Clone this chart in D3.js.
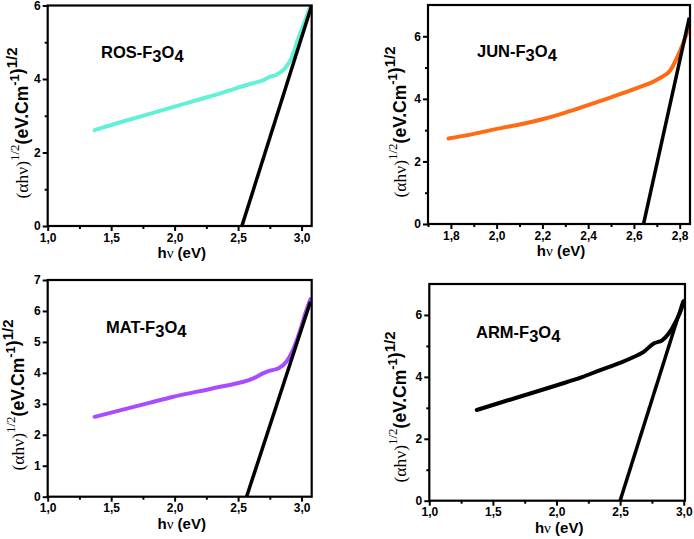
<!DOCTYPE html>
<html><head><meta charset="utf-8">
<script src="https://cdn.jsdelivr.net/npm/d3@7"></script>
<style>body{margin:0;background:#fff}svg{display:block}</style>
</head><body>
<svg id="c" width="694" height="539"></svg>
<script>
// ---- data ----
const rosX = [1.37, 1.60, 1.80, 2.00, 2.20, 2.36, 2.46, 2.60, 2.70, 2.75, 2.80, 2.87, 2.92, 2.97, 3.03, 3.07];
const rosY = [2.61, 2.85, 3.05, 3.25, 3.45, 3.61, 3.72, 3.87, 3.97, 4.06, 4.11, 4.29, 4.56, 5.06, 5.61, 5.99];
const rosTangentX = [2.53, 3.08];
const rosTangentY = [0, 6.0];

const junX = [1.79, 1.90, 2.00, 2.10, 2.20, 2.30, 2.40, 2.50, 2.60, 2.71, 2.76, 2.79, 2.815, 2.836, 2.845];
const junY = [2.73, 2.88, 3.04, 3.18, 3.35, 3.56, 3.80, 4.05, 4.31, 4.65, 4.92, 5.34, 5.77, 6.19, 6.35];
const junTangentX = [2.642, 2.842];
const junTangentY = [0, 6.6];

const matX = [1.37, 1.60, 1.80, 1.99, 2.20, 2.36, 2.62, 2.70, 2.75, 2.82, 2.88, 2.92, 2.99, 3.03, 3.07];
const matY = [2.58, 2.82, 3.03, 3.23, 3.41, 3.55, 3.82, 3.99, 4.07, 4.15, 4.36, 4.63, 5.38, 5.92, 6.38];
const matTangentX = [2.567, 3.07];
const matTangentY = [0, 6.3];

const armX = [1.373, 1.60, 1.80, 2.003, 2.20, 2.344, 2.50, 2.606, 2.685, 2.764, 2.83, 2.882, 2.935, 2.987, 3.0];
const armY = [2.93, 3.22, 3.47, 3.73, 3.99, 4.22, 4.45, 4.64, 4.81, 5.08, 5.18, 5.40, 5.77, 6.26, 6.45];
const armTangentX = [2.50, 2.995];
const armTangentY = [0, 6.45];

const names = ["ROS", "JUN", "MAT", "ARM"];
const xTicksA = [1.0, 1.5, 2.0, 2.5, 3.0];
const xMinorA = [1.25, 1.75, 2.25, 2.75];
const xTicksB = [1.8, 2.0, 2.2, 2.4, 2.6, 2.8];
const xMinorB = [1.7, 1.9, 2.1, 2.3, 2.5, 2.7];
const yTicksEven = [0, 2, 4, 6];
const yMinorOdd = [1, 3, 5];
const yTicksAll = [0, 1, 2, 3, 4, 5, 6, 7];

// ---- layout ----
const panels = [
  {name: names[0], xs: rosX, ys: rosY, tx: rosTangentX, ty: rosTangentY, color: "#62f0d6",
   L: 47.7, R: 311.7, T: 5.5, B: 226, xd: [1, 3.08], yd: [0, 6],
   xt: xTicksA, xm: xMinorA, yt: yTicksEven, ym: yMinorOdd, title: [101, 58], ylab: [28, 123]},
  {name: names[1], xs: junX, ys: junY, tx: junTangentX, ty: junTangentY, color: "#ff6a12",
   L: 428, R: 690, T: 5, B: 224, xd: [1.7, 2.845], yd: [0, 7],
   xt: xTicksB, xm: xMinorB, yt: yTicksEven, ym: yMinorOdd, title: [477, 57], ylab: [406, 122]},
  {name: names[2], xs: matX, ys: matY, tx: matTangentX, ty: matTangentY, color: "#a84cff",
   L: 47.7, R: 311.7, T: 280, B: 496.7, xd: [1, 3.08], yd: [0, 7],
   xt: xTicksA, xm: xMinorA, yt: yTicksAll, ym: [], title: [106, 333], ylab: [24, 395]},
  {name: names[3], xs: armX, ys: armY, tx: armTangentX, ty: armTangentY, color: "#000000",
   L: 429.3, R: 685, T: 284, B: 500.7, xd: [1, 3.01], yd: [0, 7],
   xt: xTicksA, xm: xMinorA, yt: yTicksEven, ym: yMinorOdd, title: [476, 338], ylab: [406, 407]}
];

const svg = d3.select("#c");
const SANS = "'Liberation Sans', Arial, sans-serif";
const SERIF = "'Liberation Serif', 'Times New Roman', serif";
const fmt = d => d.toFixed(1).replace(".", ",");

panels.forEach(p => {
  const x = d3.scaleLinear().domain(p.xd).range([p.L, p.R]);
  const y = d3.scaleLinear().domain(p.yd).range([p.B, p.T]);
  const g = svg.append("g");

  // x axis
  const xa = g.append("g").attr("transform", `translate(0,${p.B})`)
    .call(d3.axisBottom(x).tickValues(p.xt).tickFormat(fmt).tickSize(5).tickPadding(2));
  xa.select(".domain").remove();
  xa.selectAll("line").attr("stroke", "#000").attr("stroke-width", 2);
  xa.selectAll("text").attr("font-family", SANS).attr("font-weight", "bold").attr("font-size", 12).attr("fill", "#000");
  const xm = g.append("g").attr("transform", `translate(0,${p.B})`)
    .call(d3.axisBottom(x).tickValues(p.xm).tickFormat("").tickSize(3));
  xm.select(".domain").remove();
  xm.selectAll("line").attr("stroke", "#000").attr("stroke-width", 2);

  // y axis
  const ya = g.append("g").attr("transform", `translate(${p.L},0)`)
    .call(d3.axisLeft(y).tickValues(p.yt).tickFormat(d3.format("d")).tickSize(5).tickPadding(2));
  ya.select(".domain").remove();
  ya.selectAll("line").attr("stroke", "#000").attr("stroke-width", 2);
  ya.selectAll("text").attr("font-family", SANS).attr("font-weight", "bold").attr("font-size", 12).attr("fill", "#000");
  if (p.ym.length) {
    const ym = g.append("g").attr("transform", `translate(${p.L},0)`)
      .call(d3.axisLeft(y).tickValues(p.ym).tickFormat("").tickSize(3));
    ym.select(".domain").remove();
    ym.selectAll("line").attr("stroke", "#000").attr("stroke-width", 2);
  }

  // clip
  const cid = "clip" + p.name;
  svg.append("clipPath").attr("id", cid).append("rect")
    .attr("x", p.L).attr("y", p.T).attr("width", p.R - p.L).attr("height", p.B - p.T);

  const line = d3.line().x(d => x(d[0])).y(d => y(d[1])).curve(d3.curveMonotoneX);
  const pts = p.xs.map((v, i) => [v, p.ys[i]]);
  g.append("path").datum(pts).attr("d", line).attr("fill", "none")
    .attr("stroke", p.color).attr("stroke-width", 4).attr("stroke-linecap", "round")
    .attr("stroke-linejoin", "round").attr("clip-path", `url(#${cid})`);

  const tline = d3.line().x(d => x(d[0])).y(d => y(d[1]));
  const tp = p.tx.map((v, i) => [v, p.ty[i]]);
  g.append("path").datum(tp).attr("d", tline).attr("fill", "none")
    .attr("stroke", "#000").attr("stroke-width", 3.5).attr("clip-path", `url(#${cid})`);

  // frame
  g.append("rect").attr("x", p.L).attr("y", p.T).attr("width", p.R - p.L).attr("height", p.B - p.T)
    .attr("fill", "none").attr("stroke", "#000").attr("stroke-width", 2.2);

  // title
  const t = g.append("text").attr("x", p.title[0]).attr("y", p.title[1])
    .attr("font-family", SANS).attr("font-weight", "bold").attr("font-size", 16.5).attr("fill", "#000");
  t.append("tspan").text(p.name + "-F");
  t.append("tspan").attr("dy", 4).text("3");
  t.append("tspan").attr("dy", -4).text("O");
  t.append("tspan").attr("dy", 4).text("4");

  // x label
  const xl = g.append("text").attr("x", (p.L + p.R) / 2 + 2).attr("y", p.B + 32)
    .attr("text-anchor", "middle").attr("font-family", SANS).attr("font-weight", "bold")
    .attr("font-size", 15).attr("fill", "#000");
  xl.append("tspan").text("h");
  xl.append("tspan").attr("font-family", SERIF).attr("font-weight", "normal").text("ν");
  xl.append("tspan").text(" (eV)");

  // y label
  const yl = g.append("text").attr("transform", `translate(${p.ylab[0]},${p.ylab[1]}) rotate(-90)`)
    .attr("text-anchor", "middle").attr("fill", "#000").attr("font-size", 17.5);
  yl.append("tspan").attr("font-family", SERIF).text("(αhν)");
  yl.append("tspan").attr("font-family", SERIF).attr("font-size", 13).attr("dy", -9).text("1/2");
  yl.append("tspan").attr("font-family", SANS).attr("font-weight", "bold").attr("dy", 9).text("(eV.Cm");
  yl.append("tspan").attr("font-family", SANS).attr("font-weight", "bold").attr("font-size", 13).attr("dy", -9).text("-1");
  yl.append("tspan").attr("font-family", SANS).attr("font-weight", "bold").attr("dy", 4).text(")");
  yl.append("tspan").attr("font-family", SANS).attr("font-weight", "bold").attr("font-size", 15).attr("dy", -6).text("1/2");
});
</script>
</body></html>
